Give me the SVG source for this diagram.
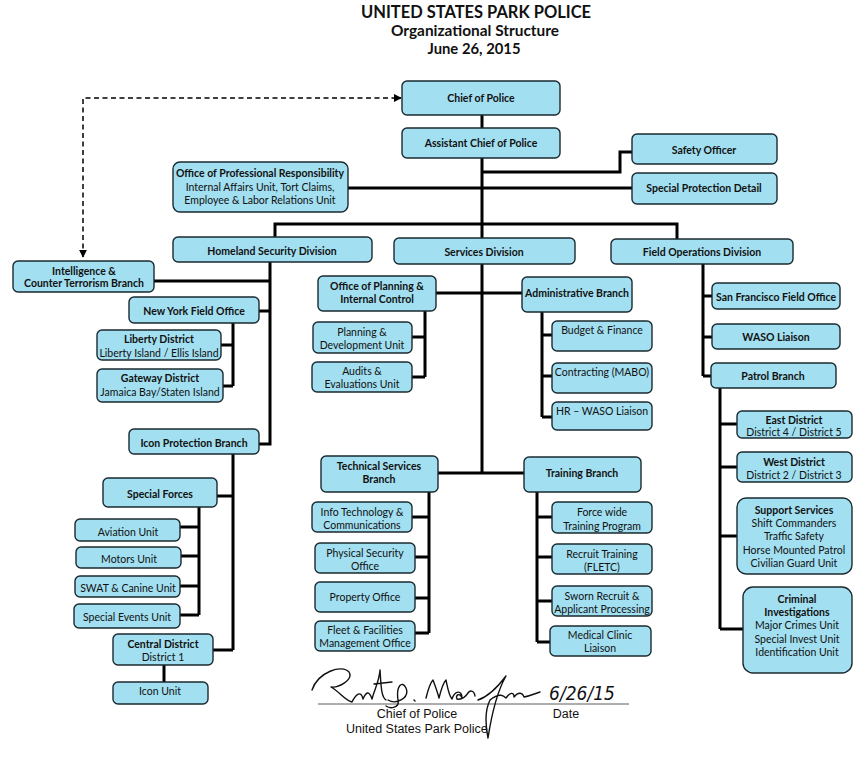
<svg xmlns="http://www.w3.org/2000/svg" width="867" height="763" viewBox="0 0 867 763">
<style>
.box{fill:#a2dff0;stroke:#1b2a30;stroke-width:1.4}
.t{font-family:Lato,"Open Sans","Liberation Sans",sans-serif;font-size:10.5px;text-anchor:middle;fill:#111}
.b{font-weight:bold}
.ln{stroke:#000;stroke-width:3;fill:none}
.hd{font-family:Lato,"Open Sans","Liberation Sans",sans-serif;font-weight:bold;text-anchor:middle;fill:#111}
.sg{font-family:"Liberation Sans",Arial,sans-serif;font-size:12.5px;fill:#111}
</style>
<defs>
<marker id="ah" viewBox="0 0 10 10" refX="9" refY="5" markerWidth="8" markerHeight="8" markerUnits="userSpaceOnUse" orient="auto-start-reverse">
<path d="M0,0 L10,5 L0,10 z" fill="#000"/>
</marker>
</defs>
<rect width="867" height="763" fill="#fff"/>
<g id="title">
<text class="hd" x="476" y="17.5" font-size="16.5" textLength="230" lengthAdjust="spacingAndGlyphs">UNITED STATES PARK POLICE</text>
<text class="hd" x="475" y="35.5" font-size="14.5" textLength="168" lengthAdjust="spacingAndGlyphs">Organizational Structure</text>
<text class="hd" x="474" y="54" font-size="14.5" textLength="93" lengthAdjust="spacingAndGlyphs">June 26, 2015</text>
</g>
<g id="connectors">
<path class="ln" d="M482,115 V238 M482,264 V473"/>
<path class="ln" d="M482,172 H620 V152 H632"/>
<path class="ln" d="M348,188 H632"/>
<path class="ln" d="M275,237 V224 H677 V239"/>
<path d="M83,257 V98 H401" fill="none" stroke="#000" stroke-width="1.5" stroke-dasharray="5,3.5" marker-start="url(#ah)" marker-end="url(#ah)"/>
<path class="ln" d="M270,262 V444 H259"/>
<path class="ln" d="M154,281 H270 M259,311 H270"/>
<path class="ln" d="M233,323 V386 M221,345 H233 M223,386 H233"/>
<path class="ln" d="M233,454 V650 M217,496 H233 M213,650 H233"/>
<path class="ln" d="M199,507 V615 M180,527 H199 M181,556 H199 M180,586 H199 M180,615 H199"/>
<path class="ln" d="M164,665 V682"/>
<path class="ln" d="M436,293 H522"/>
<path class="ln" d="M425,311 V377 M412,337 H425 M412,377 H425"/>
<path class="ln" d="M542,312 V417 M542,335 H552 M542,376 H552 M542,417 H552"/>
<path class="ln" d="M438,473 H524"/>
<path class="ln" d="M429,492 V633 M412,517 H429 M415,557 H429 M415,598 H429 M415,633 H429"/>
<path class="ln" d="M537,492 V642 M537,517 H552 M537,557 H552 M537,601 H552 M537,642 H550"/>
<path class="ln" d="M703,264 V376 M703,296 H712 M703,337 H712 M703,376 H711"/>
<path class="ln" d="M720,388 V629 M720,424 H737 M720,467 H737 M720,536 H737 M720,629 H743"/>
</g>
<g id="chief"><rect class="box" x="402" y="81" width="158" height="34" rx="5"/><text class="t b" x="481" y="101.5">Chief of Police</text></g>
<g id="asst"><rect class="box" x="402" y="128" width="158" height="30" rx="5"/><text class="t b" x="481" y="146.5">Assistant Chief of Police</text></g>
<g id="safety"><rect class="box" x="632" y="134" width="145" height="30" rx="5"/><text class="t b" x="704" y="153.5">Safety Officer</text></g>
<g id="spd"><rect class="box" x="632" y="173" width="145" height="31" rx="5"/><text class="t b" x="704" y="192">Special Protection Detail</text></g>
<g id="opr"><rect class="box" x="173" y="162" width="175" height="50" rx="7"/><text class="t b" x="260" y="177" font-size="10.2">Office of Professional Responsibility</text><text class="t" x="260" y="190.5">Internal Affairs Unit, Tort Claims,</text><text class="t" x="260" y="204">Employee &amp; Labor Relations Unit</text></g>
<g id="homeland"><rect class="box" x="173" y="237" width="199" height="25" rx="5"/><text class="t b" x="272" y="255">Homeland Security Division</text></g>
<g id="services"><rect class="box" x="394" y="238" width="181" height="26" rx="5"/><text class="t b" x="484" y="255.5">Services Division</text></g>
<g id="fieldops"><rect class="box" x="611" y="239" width="182" height="25" rx="5"/><text class="t b" x="702" y="256">Field Operations Division</text></g>
<g id="intel"><rect class="box" x="13" y="261" width="141" height="31" rx="5"/><text class="t b" x="84" y="274.5">Intelligence &amp;</text><text class="t b" x="84" y="287">Counter Terrorism Branch</text></g>
<g id="nyfo"><rect class="box" x="129" y="297" width="130" height="26" rx="5"/><text class="t b" x="194" y="314.5">New York Field Office</text></g>
<g id="liberty"><rect class="box" x="97" y="330" width="124" height="30" rx="5"/><text class="t b" x="159" y="342.5">Liberty District</text><text class="t" x="159" y="356.5">Liberty Island / Ellis Island</text></g>
<g id="gateway"><rect class="box" x="97" y="369" width="126" height="33" rx="5"/><text class="t b" x="160" y="381.5">Gateway District</text><text class="t" x="160" y="395.5">Jamaica Bay/Staten Island</text></g>
<g id="iconprot"><rect class="box" x="129" y="429" width="130" height="25" rx="5"/><text class="t b" x="194" y="446.5">Icon Protection Branch</text></g>
<g id="specforces"><rect class="box" x="103" y="478" width="114" height="29" rx="5"/><text class="t b" x="160" y="497.5">Special Forces</text></g>
<g id="aviation"><rect class="box" x="75" y="519" width="105" height="22" rx="5"/><text class="t" x="128" y="536">Aviation Unit</text></g>
<g id="motors"><rect class="box" x="76" y="547" width="105" height="21" rx="5"/><text class="t" x="129" y="563">Motors Unit</text></g>
<g id="swat"><rect class="box" x="75" y="576" width="105" height="21" rx="5"/><text class="t" x="128" y="592">SWAT &amp; Canine Unit</text></g>
<g id="specevents"><rect class="box" x="74" y="604" width="106" height="24" rx="5"/><text class="t" x="127" y="621">Special Events Unit</text></g>
<g id="central"><rect class="box" x="113" y="634" width="100" height="31" rx="5"/><text class="t b" x="163" y="647.5">Central District</text><text class="t" x="163" y="660.5">District 1</text></g>
<g id="iconunit"><rect class="box" x="113" y="682" width="95" height="22" rx="5"/><text class="t" x="160" y="694.5">Icon Unit</text></g>
<g id="opic"><rect class="box" x="318" y="276" width="118" height="35" rx="5"/><text class="t b" x="377" y="289.5">Office of Planning &amp;</text><text class="t b" x="377" y="302.5">Internal Control</text></g>
<g id="admin"><rect class="box" x="522" y="277" width="110" height="35" rx="5"/><text class="t b" x="577" y="296.5">Administrative Branch</text></g>
<g id="plandev"><rect class="box" x="313" y="322" width="99" height="31" rx="5"/><text class="t" x="362" y="335.5">Planning &amp;</text><text class="t" x="362" y="348.5">Development Unit</text></g>
<g id="audits"><rect class="box" x="312" y="362" width="100" height="30" rx="5"/><text class="t" x="362" y="374.5">Audits &amp;</text><text class="t" x="362" y="387.5">Evaluations Unit</text></g>
<g id="budget"><rect class="box" x="552" y="321" width="100" height="30" rx="5"/><text class="t" x="602" y="333.5">Budget &amp; Finance</text></g>
<g id="contracting"><rect class="box" x="552" y="363" width="100" height="30" rx="5"/><text class="t" x="602" y="375.5">Contracting (MABO)</text></g>
<g id="hr"><rect class="box" x="552" y="402" width="100" height="28" rx="5"/><text class="t" x="602" y="414.5">HR – WASO Liaison</text></g>
<g id="tsb"><rect class="box" x="321" y="456" width="117" height="36" rx="5"/><text class="t b" x="379" y="469.5">Technical Services</text><text class="t b" x="379" y="482.5">Branch</text></g>
<g id="training"><rect class="box" x="524" y="457" width="117" height="35" rx="5"/><text class="t b" x="582" y="476.5">Training Branch</text></g>
<g id="infotech"><rect class="box" x="312" y="502" width="100" height="30" rx="5"/><text class="t" x="362" y="515.5">Info Technology &amp;</text><text class="t" x="362" y="528.5">Communications</text></g>
<g id="physical"><rect class="box" x="315" y="543" width="100" height="30" rx="5"/><text class="t" x="365" y="556.5">Physical Security</text><text class="t" x="365" y="569.5">Office</text></g>
<g id="property"><rect class="box" x="315" y="582" width="100" height="30" rx="5"/><text class="t" x="365" y="600.5">Property Office</text></g>
<g id="fleet"><rect class="box" x="315" y="621" width="100" height="30" rx="5"/><text class="t" x="365" y="633.5">Fleet &amp; Facilities</text><text class="t" x="365" y="646.5">Management Office</text></g>
<g id="forcewide"><rect class="box" x="552" y="502" width="100" height="31" rx="5"/><text class="t" x="602" y="515.5">Force wide</text><text class="t" x="602" y="529.5">Training Program</text></g>
<g id="recruit"><rect class="box" x="552" y="544" width="100" height="30" rx="5"/><text class="t" x="602" y="557.5">Recruit Training</text><text class="t" x="602" y="570.5">(FLETC)</text></g>
<g id="sworn"><rect class="box" x="552" y="586" width="100" height="30" rx="5"/><text class="t" x="602" y="599.5">Sworn Recruit &amp;</text><text class="t" x="602" y="612.5">Applicant Processing</text></g>
<g id="medical"><rect class="box" x="550" y="626" width="101" height="30" rx="5"/><text class="t" x="600" y="638.5">Medical Clinic</text><text class="t" x="600" y="651.5">Liaison</text></g>
<g id="sffo"><rect class="box" x="712" y="283" width="128" height="26" rx="5"/><text class="t b" x="776" y="300.5">San Francisco Field Office</text></g>
<g id="waso"><rect class="box" x="712" y="324" width="128" height="25" rx="5"/><text class="t b" x="776" y="341">WASO Liaison</text></g>
<g id="patrol"><rect class="box" x="711" y="363" width="125" height="25" rx="5"/><text class="t b" x="773" y="380">Patrol Branch</text></g>
<g id="east"><rect class="box" x="737" y="411" width="115" height="27" rx="5"/><text class="t b" x="794" y="423.5">East District</text><text class="t" x="794" y="436">District 4 / District 5</text></g>
<g id="west"><rect class="box" x="737" y="452" width="115" height="30" rx="5"/><text class="t b" x="794" y="465.5">West District</text><text class="t" x="794" y="478.5">District 2 / District 3</text></g>
<g id="support"><rect class="box" x="737" y="498" width="115" height="76" rx="9"/><text class="t b" x="794" y="513.5">Support Services</text><text class="t" x="794" y="526.5">Shift Commanders</text><text class="t" x="794" y="540">Traffic Safety</text><text class="t" x="794" y="553.5">Horse Mounted Patrol</text><text class="t" x="794" y="566.5">Civilian Guard Unit</text></g>
<g id="criminal"><rect class="box" x="743" y="587" width="109" height="86" rx="10"/><text class="t b" x="797" y="602.5">Criminal</text><text class="t b" x="797" y="615.5">Investigations</text><text class="t" x="797" y="629">Major Crimes Unit</text><text class="t" x="797" y="642.5">Special Invest Unit</text><text class="t" x="797" y="655.5">Identification Unit</text></g>
<g id="signature">
<line x1="318" y1="704" x2="629" y2="704" stroke="#333" stroke-width="0.8"/>
<path d="M312,690 C318,672 342,664 349,672 C354,680 338,688 331,687 C340,692 344,700 352,702 C356,694 361,690 363,699 C366,692 369,690 372,699 C375,688 379,682 380,670 C381,684 381,697 386,700 M374,684 L392,682 M388,700 C396,705 410,698 406,688 C402,680 396,686 398,700 C400,708 390,709 386,706 M414,700 L415,701 M426,698 C428,690 431,682 433,680 C436,688 438,694 439,698 C441,690 444,682 446,680 C448,690 449,696 452,699 C455,690 462,690 462,698 C460,692 455,695 457,699 C462,700 466,696 468,693 C470,690 474,690 475,696 M478,700 C490,696 500,684 506,676 C498,690 492,712 488,738 C486,728 484,712 490,700 C500,692 504,696 506,698 C510,692 514,692 514,697 C518,692 522,692 524,697 C530,696 534,694 540,692" fill="none" stroke="#111" stroke-width="1.4" stroke-linecap="round" stroke-linejoin="round"/>
<text x="549" y="700" font-family="DejaVu Sans,sans-serif" font-style="italic" font-size="20" fill="#111" textLength="66" lengthAdjust="spacingAndGlyphs">6/26/15</text>
<text class="sg" x="417" y="718" text-anchor="middle">Chief of Police</text>
<text class="sg" x="566" y="718" text-anchor="middle">Date</text>
<text class="sg" x="346" y="733">United States Park Police</text>
</g>
</svg>
